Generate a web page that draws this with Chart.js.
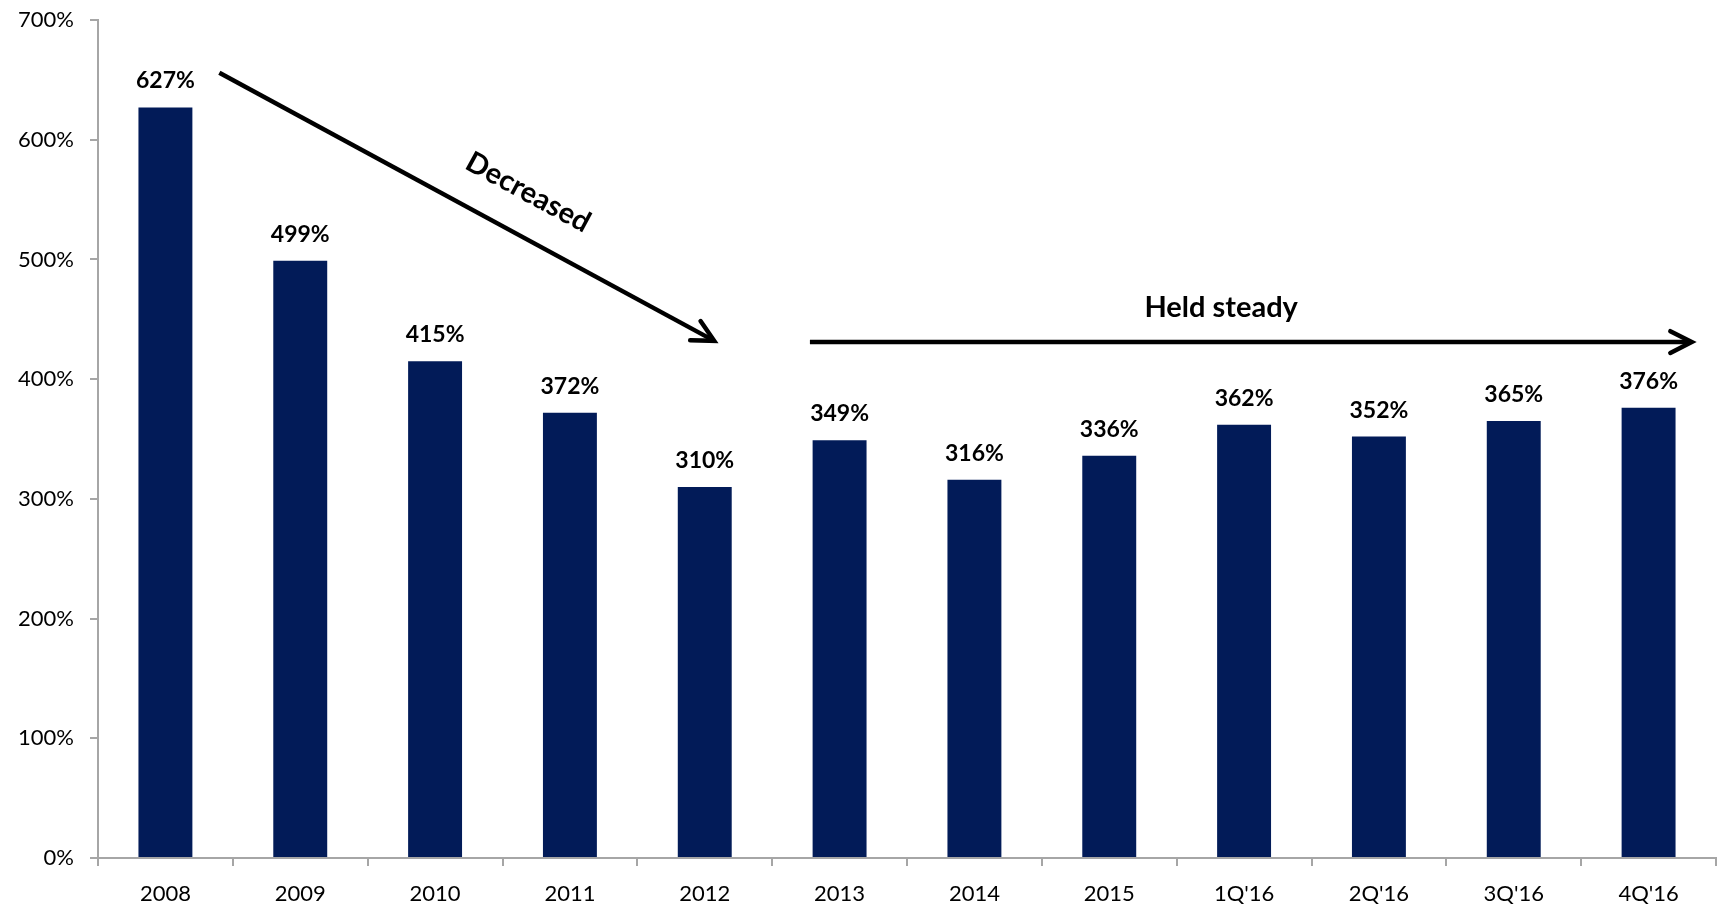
<!DOCTYPE html>
<html>
<head>
<meta charset="utf-8">
<script src="https://cdn.jsdelivr.net/npm/chart.js@4.4.0/dist/chart.umd.min.js"></script>
<style>
  html, body { margin: 0; padding: 0; background: #ffffff; }
  #wrap { width: 1723px; height: 905px; position: relative; }
</style>
</head>
<body>
<div id="wrap"><canvas id="c"></canvas></div>
<script>
// ---- data ----
const categories = ['2008', '2009', '2010', '2011', '2012', '2013', '2014', '2015', "1Q'16", "2Q'16", "3Q'16", "4Q'16"];
const values = [627, 499, 415, 372, 310, 349, 316, 336, 362, 352, 365, 376];
const yTickValues = [0, 100, 200, 300, 400, 500, 600, 700];

// annotation anchors in data space (category index, value %)
const decreasedArrow = { from: [0.40, 656], to: [4.07, 432] };
const decreasedLabel = { text: 'Decreased', at: [2.69, 556] };
const steadyArrow = { from: [4.78, 431], to: [11.32, 431] };
const steadyLabel = { text: 'Held steady', at: [7.83, 452] };

const FONT = 'Lato, "Open Sans", "Liberation Sans", sans-serif';
const AXIS_COLOR = '#a6a6a6';
const BAR_COLOR = '#021b58';

const valueLabels = {
  id: 'valueLabels',
  afterDatasetsDraw(chart) {
    const ctx = chart.ctx;
    const meta = chart.getDatasetMeta(0);
    ctx.save();
    ctx.font = 'bold 23px ' + FONT;
    ctx.fillStyle = '#000';
    ctx.textAlign = 'center';
    ctx.textBaseline = 'alphabetic';
    meta.data.forEach((el, i) => {
      ctx.fillText(values[i] + '%', el.x, el.y - 19);
    });
    ctx.restore();
  }
};

function drawArrow(ctx, x1, y1, x2, y2) {
  const ang = Math.atan2(y2 - y1, x2 - x1);
  ctx.beginPath();
  ctx.moveTo(x1, y1);
  ctx.lineTo(x2 - 2 * Math.cos(ang), y2 - 2 * Math.sin(ang));
  ctx.stroke();
  const len = 24, spread = 0.47;
  ctx.save();
  ctx.lineCap = 'round';
  ctx.lineJoin = 'miter';
  ctx.beginPath();
  ctx.moveTo(x2 - len * Math.cos(ang - spread), y2 - len * Math.sin(ang - spread));
  ctx.lineTo(x2, y2);
  ctx.lineTo(x2 - len * Math.cos(ang + spread), y2 - len * Math.sin(ang + spread));
  ctx.stroke();
  ctx.restore();
}

const annotations = {
  id: 'annotations',
  afterDraw(chart) {
    const ctx = chart.ctx;
    const xs = chart.scales.x, ys = chart.scales.y;
    const px = p => [xs.getPixelForValue(p[0]), ys.getPixelForValue(p[1])];
    ctx.save();
    ctx.strokeStyle = '#000';
    ctx.fillStyle = '#000';
    ctx.lineWidth = 4.5;

    const a1 = px(decreasedArrow.from), b1 = px(decreasedArrow.to);
    drawArrow(ctx, a1[0], a1[1], b1[0], b1[1]);
    const a2 = px(steadyArrow.from), b2 = px(steadyArrow.to);
    drawArrow(ctx, a2[0], a2[1], b2[0], b2[1]);

    const ang = Math.atan2(b1[1] - a1[1], b1[0] - a1[0]);
    const c = px(decreasedLabel.at);
    ctx.save();
    ctx.translate(c[0], c[1]);
    ctx.rotate(ang);
    ctx.font = 'bold 29px ' + FONT;
    ctx.textAlign = 'center';
    ctx.textBaseline = 'middle';
    ctx.fillText(decreasedLabel.text, 0, 0);
    ctx.restore();

    const s = px(steadyLabel.at);
    ctx.font = 'bold 29px ' + FONT;
    ctx.textAlign = 'center';
    ctx.textBaseline = 'alphabetic';
    ctx.fillText(steadyLabel.text, s[0], s[1]);
    ctx.restore();
  }
};

new Chart(document.getElementById('c'), {
  type: 'bar',
  data: {
    labels: categories,
    datasets: [{
      data: values,
      backgroundColor: BAR_COLOR,
      borderWidth: 0,
      barPercentage: 0.4,
      categoryPercentage: 1.0
    }]
  },
  options: {
    responsive: true,
    maintainAspectRatio: false,
    animation: false,
    layout: { padding: { top: 20, right: 7, left: 0, bottom: 0 } },
    plugins: { legend: { display: false }, tooltip: { enabled: false } },
    scales: {
      x: {
        grid: {
          display: true, drawOnChartArea: false, drawTicks: true,
          tickLength: 8, color: AXIS_COLOR, lineWidth: 2, offset: true
        },
        border: { display: true, color: AXIS_COLOR, width: 2 },
        ticks: { color: '#000', font: { family: FONT, size: 22 }, padding: 15, maxRotation: 0, autoSkip: false },
        afterFit: s => { s.height = 47; s.paddingLeft = 0; s.paddingRight = 0; }
      },
      y: {
        min: 0, max: 700,
        afterBuildTicks: s => { s.ticks = yTickValues.map(v => ({ value: v })); },
        grid: {
          display: true, drawOnChartArea: false, drawTicks: true,
          tickLength: 8, color: AXIS_COLOR, lineWidth: 2
        },
        border: { display: true, color: AXIS_COLOR, width: 2 },
        ticks: { color: '#000', font: { family: FONT, size: 22 }, padding: 16, callback: v => v + '%' },
        afterFit: s => { s.width = 98; s.paddingTop = 0; s.paddingBottom = 0; }
      }
    }
  },
  plugins: [valueLabels, annotations]
});
</script>
</body>
</html>
